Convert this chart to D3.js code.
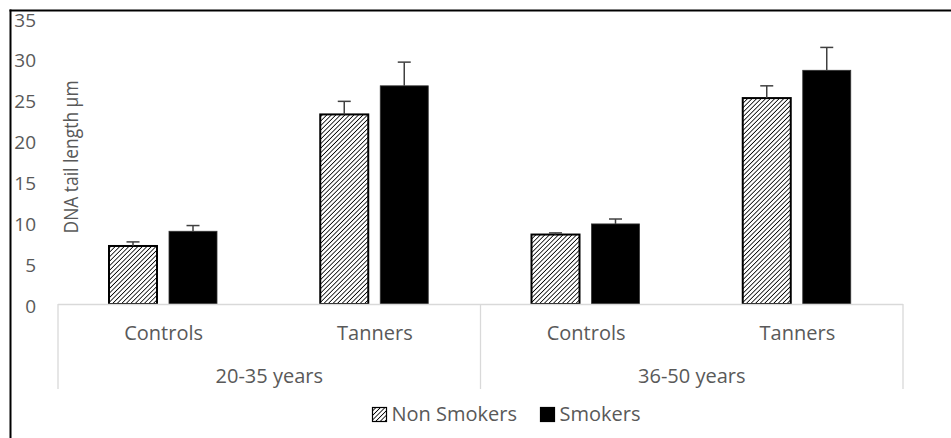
<!DOCTYPE html>
<html>
<head>
<meta charset="utf-8">
<script src="https://cdn.jsdelivr.net/npm/d3@7"></script>
<style>
  html, body { margin: 0; padding: 0; background: #fff; }
  svg { display: block; }
  text { font-family: "Open Sans", "DejaVu Sans", sans-serif; fill: #595959; }
</style>
</head>
<body>
<svg id="chart" width="951" height="438"></svg>
<script>
// Comet assay: DNA tail length by age group, occupation and smoking status
const ageGroups = ["20-35 years", "36-50 years"];
const occupations = ["Controls", "Tanners"];
const series = ["Non Smokers", "Smokers"];
const nonSmokers = [7.1, 23.2, 8.5, 25.2];
const smokers = [8.9, 26.7, 9.8, 28.6];
const nonSmokersErr = [0.5, 1.6, 0.2, 1.5];
const smokersErr = [0.7, 2.9, 0.6, 2.8];
const yTicks = [0, 5, 10, 15, 20, 25, 30, 35];

const svg = d3.select("#chart");
const W = 951, H = 438;
const plot = { left: 58, right: 903, top: 18, bottom: 304 };

// Outer frame (top and left edges visible)
svg.append("line").attr("x1", 9.5).attr("x2", W).attr("y1", 10.5).attr("y2", 10.5)
  .attr("stroke", "#000").attr("stroke-width", 2);
svg.append("line").attr("x1", 10.5).attr("x2", 10.5).attr("y1", 9.5).attr("y2", H)
  .attr("stroke", "#000").attr("stroke-width", 2);

// Hatch pattern for non-smokers
const defs = svg.append("defs");
const pat = defs.append("pattern").attr("id", "hatch")
  .attr("patternUnits", "userSpaceOnUse").attr("width", 3.2).attr("height", 3.2)
  .attr("patternTransform", "rotate(45)");
pat.append("rect").attr("width", 3.2).attr("height", 3.2).attr("fill", "#fff");
pat.append("line").attr("x1", 0).attr("y1", 0).attr("x2", 0).attr("y2", 3.2)
  .attr("stroke", "#000").attr("stroke-width", 1.6);

// Data rows: one per (age group, occupation)
const rows = [];
ageGroups.forEach((g, gi) => occupations.forEach((o, oi) => {
  const i = gi * occupations.length + oi;
  rows.push({ key: g + "|" + o, group: g, occ: o,
    vals: [
      { s: series[0], v: nonSmokers[i], e: nonSmokersErr[i] },
      { s: series[1], v: smokers[i], e: smokersErr[i] }
    ] });
}));

const x0 = d3.scaleBand().domain(rows.map(r => r.key))
  .range([plot.left, plot.right]).paddingInner(0).paddingOuter(0);
const x1 = d3.scaleBand().domain(series).range([51, 159]).paddingInner(0.2);
const y = d3.scaleLinear().domain([0, 35]).range([plot.bottom, plot.top]);

// Y tick labels (no axis line)
const yAxis = d3.axisLeft(y).tickValues(yTicks).tickSize(0).tickPadding(0);
const yg = svg.append("g").attr("transform", "translate(36,2)").call(yAxis);
yg.select(".domain").remove();
yg.selectAll("text").style("font-size", "19px").attr("fill", "#595959")
  .style("font-family", "\"Open Sans\", sans-serif");

// Y axis title (condensed to the axis-title width)
svg.append("text")
  .attr("transform", `translate(78,157) rotate(-90)`)
  .attr("text-anchor", "middle")
  .attr("textLength", 153).attr("lengthAdjust", "spacingAndGlyphs")
  .style("font-size", "20px").text("DNA tail length \u00b5m");

// Bars
const groupsSel = svg.append("g").selectAll("g").data(rows).join("g")
  .attr("transform", d => `translate(${x0(d.key)},0)`);

groupsSel.selectAll("rect").data(d => d.vals).join("rect")
  .attr("x", d => x1(d.s))
  .attr("width", x1.bandwidth())
  .attr("y", d => y(d.v))
  .attr("height", d => y(0) - y(d.v))
  .attr("fill", d => d.s === series[0] ? "url(#hatch)" : "#000")
  .attr("stroke", d => d.s === series[0] ? "#000" : "#333")
  .attr("stroke-width", d => d.s === series[0] ? 2 : 0.8);

// Upper error bars
groupsSel.selectAll("g.err").data(d => d.vals).join("g").attr("class", "err")
  .each(function(d) {
    const cx = x1(d.s) + x1.bandwidth() / 2;
    const g = d3.select(this);
    g.append("line").attr("x1", cx).attr("x2", cx)
      .attr("y1", y(d.v)).attr("y2", y(d.v + d.e))
      .attr("stroke", "#404040").attr("stroke-width", 1.5);
    g.append("line").attr("x1", cx - 6.5).attr("x2", cx + 6.5)
      .attr("y1", y(d.v + d.e)).attr("y2", y(d.v + d.e))
      .attr("stroke", "#404040").attr("stroke-width", 1.5);
  });

// Multi-level category axis
const axisColor = "#d9d9d9";
const axisBottom = 389;
svg.append("line").attr("x1", plot.left).attr("x2", plot.right)
  .attr("y1", plot.bottom + 0.5).attr("y2", plot.bottom + 0.5)
  .attr("stroke", axisColor).attr("stroke-width", 1.3);
const gScale = d3.scaleBand().domain(ageGroups).range([plot.left, plot.right]);
const seps = [plot.left, ...ageGroups.map(g => gScale(g) + gScale.bandwidth())];
svg.append("g").selectAll("line").data(seps).join("line")
  .attr("x1", d => d).attr("x2", d => d)
  .attr("y1", plot.bottom).attr("y2", axisBottom)
  .attr("stroke", axisColor).attr("stroke-width", 1.3);

svg.append("g").selectAll("text").data(rows).join("text")
  .attr("x", d => x0(d.key) + x0.bandwidth() / 2)
  .attr("y", 340).attr("text-anchor", "middle")
  .style("font-size", "20px").text(d => d.occ);

svg.append("g").selectAll("text").data(ageGroups).join("text")
  .attr("x", d => gScale(d) + gScale.bandwidth() / 2)
  .attr("y", 383).attr("text-anchor", "middle")
  .style("font-size", "20px").text(d => d);

// Legend
const legend = svg.append("g");
const legendItems = [
  { s: series[0], x: 372.5, fill: "url(#hatch)" },
  { s: series[1], x: 540.5, fill: "#000" }
];
legendItems.forEach(it => {
  legend.append("rect").attr("x", it.x).attr("y", 407.5).attr("width", 14).attr("height", 14)
    .attr("fill", it.fill).attr("stroke", "#000").attr("stroke-width", 1.2);
  legend.append("text").attr("x", it.x + 19).attr("y", 421)
    .style("font-size", "20px").text(it.s);
});
</script>
</body>
</html>
